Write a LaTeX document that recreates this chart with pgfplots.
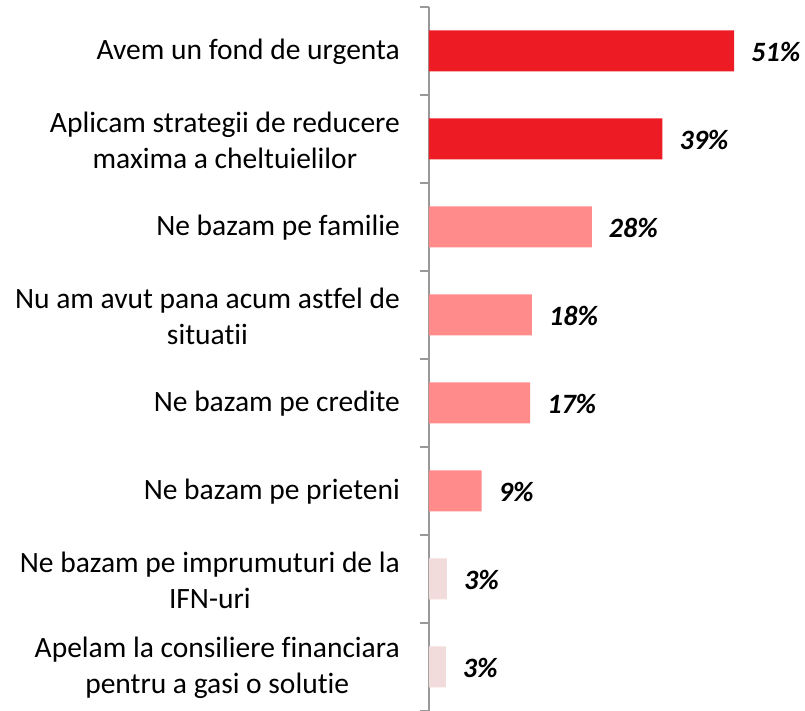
\documentclass[border=0pt]{standalone}
\usepackage{pgfplots}
\pgfplotsset{compat=1.18}
\usepackage{fontspec}
\setmainfont{Carlito}[Ligatures=NoCommon]
\definecolor{dred}{HTML}{ED1C24}
\definecolor{lred}{HTML}{FF8B8B}
\definecolor{pale}{HTML}{F2DCDB}
\definecolor{axgray}{HTML}{999999}
\begin{document}
\begin{tikzpicture}
\begin{axis}[
 at={(0,0)}, anchor=south west,
 scale only axis, width=371pt, height=704pt,
 xmin=0, xmax=62, ymin=-0.5, ymax=7.5,
 xbar, bar width=41pt, bar shift=0pt,
 axis x line=none,
 axis y line*=left,
 y axis line style={draw=axgray, line width=1.8pt},
 ytick={0,...,7},
 yticklabels={{Apelam la consiliere financiara\\pentru a gasi o solutie},
   {Ne bazam pe imprumuturi de la\\IFN-uri},
   {Ne bazam pe prieteni},
   {Ne bazam pe credite},
   {Nu am avut pana acum astfel de\\situatii},
   {Ne bazam pe familie},
   {Aplicam strategii de reducere\\maxima a cheltuielilor},
   {Avem un fond de urgenta}},
 major tick length=0pt,
 extra y ticks={-0.5,0.5,1.5,2.5,3.5,4.5,5.5,6.5,7.5},
 extra y tick labels={},
 extra y tick style={major tick length=9pt, tick align=outside, tick style={draw=axgray, line width=1.5pt}},
 yticklabel style={align=center, font=\fontsize{29.5}{36}\selectfont, inner sep=0pt, anchor=east, xshift=-29pt, yshift=-1pt},
 clip=false,
 nodes near coords={\pgfplotspointmeta\%},
 point meta=explicit symbolic,
 every node near coord/.append style={font=\fontsize{28}{32}\selectfont\bfseries\itshape, anchor=west, inner sep=0pt, xshift=17pt, yshift=-1pt, color=black},
]
\addplot[fill=dred, draw=none] table[x=v, y=y, meta=l] {
v y l
51 7 51
39 6 39
};
\addplot[fill=lred, draw=none] table[x=v, y=y, meta=l] {
v y l
27.2 5 28
17.2 4 18
16.9 3 17
8.8 2 9
};
\addplot[fill=pale, draw=none] table[x=v, y=y, meta=l] {
v y l
3.0 1 3
2.8 0 3
};
\end{axis}
\pgfresetboundingbox
\path (-429pt,0pt) rectangle (376pt,711pt);
\end{tikzpicture}
\end{document}
